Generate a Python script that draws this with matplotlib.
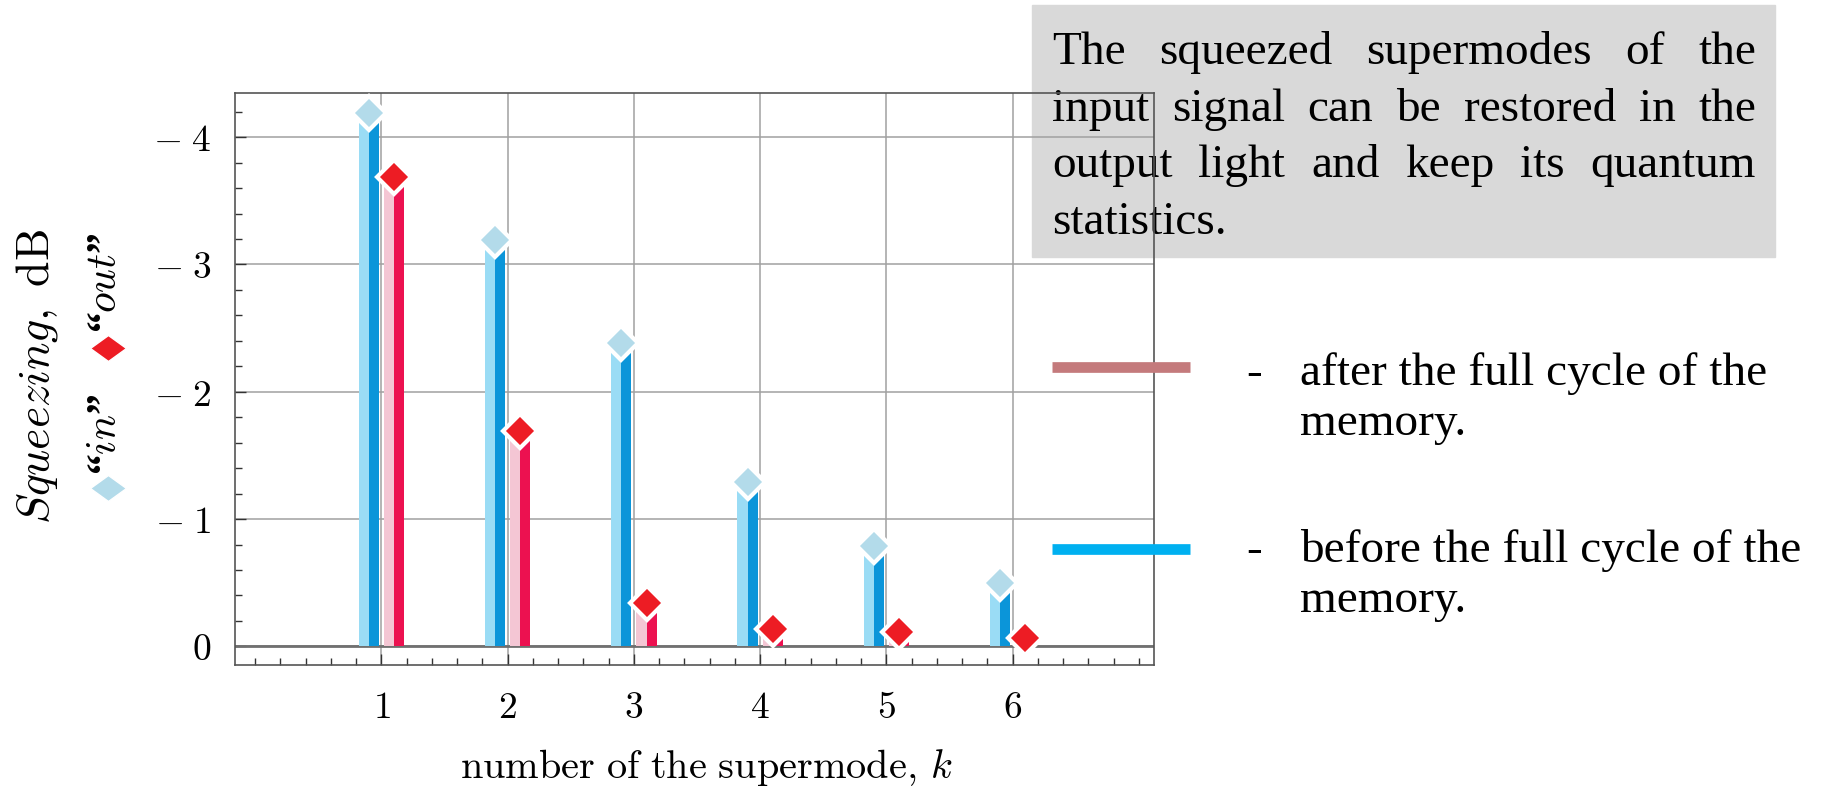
import numpy as np
import matplotlib
matplotlib.use("Agg")
import matplotlib.pyplot as plt
from matplotlib.patches import Rectangle
from matplotlib.lines import Line2D
from matplotlib.markers import MarkerStyle
from matplotlib.transforms import Affine2D
from matplotlib.ticker import MultipleLocator

plt.rcParams['mathtext.fontset'] = 'cm'

# squeezing of each supermode, dB
k = [1, 2, 3, 4, 5, 6]
sq_in = [-4.19, -3.19, -2.38, -1.29, -0.79, -0.50]
sq_out = [-3.69, -1.69, -0.34, -0.14, -0.11, -0.07]
y_ticks = [0, -1, -2, -3, -4]

box_lines = ["The squeezed supermodes of the",
             "input signal can be restored in the",
             "output light and keep its quantum",
             "statistics."]
legend_after = ["after the full cycle of the", "memory."]
legend_before = ["before the full cycle of the", "memory."]

W, H = 1823, 786
fig = plt.figure(figsize=(W / 100, H / 100), dpi=100)


def fx(px):
    return px / W


def fy(py):
    return 1 - py / H


ax = fig.add_axes([fx(235), fy(665), (1154 - 235) / W, (665 - 93) / H])
ax.patch.set_alpha(0)

x = np.array(k)
hw = 0.08  # half of one bar
series = [(sq_in, -0.1, '#9adcf5', '#0b95d9', '#b3dbea'),
          (sq_out, 0.1, '#f4c6d4', '#ec1150', '#ed1c24')]
for vals, off, light, dark, mcol in series:
    ax.bar(x + off - hw / 2, vals, width=hw, color=light, zorder=3)
    ax.bar(x + off + hw / 2, vals, width=hw, color=dark, zorder=3)
    ax.plot(x + off, vals, ls='none', marker='D', ms=17, mfc=mcol,
            mec='white', mew=3, zorder=4, clip_on=False)

ax.axhline(0, color='#707070', lw=2, zorder=2)
ax.set_xlim(-0.16, 7.12)
ax.set_ylim(0.146, -4.347)

ax.set_xticks(k)
ax.set_xticklabels([f'${v}$' for v in k])
ax.set_yticks(y_ticks)
ax.set_yticklabels([r'$-\;%d$' % -v if v < 0 else '$0$' for v in y_ticks])
ax.xaxis.set_minor_locator(MultipleLocator(0.2))
ax.yaxis.set_minor_locator(MultipleLocator(0.2))
ax.tick_params(which='both', direction='in', top=False, right=False,
               color='#333333', labelsize=27)
ax.tick_params(which='major', length=8, width=1)
ax.tick_params(which='minor', length=5, width=1)
ax.tick_params(axis='x', pad=18)
ax.tick_params(axis='y', pad=17)
ax.grid(True, which='major', color='#a0a0a0', lw=1.1)
ax.set_axisbelow(True)
for sp in ax.spines.values():
    sp.set_color('#555555')
    sp.set_linewidth(1.2)

# axis titles
fig.text(fx(706), fy(767), r'$\mathrm{number\ of\ the\ supermode,}\,k$',
         ha='center', va='center', fontsize=29)
fig.text(fx(37), fy(376), r'$Squeezing,\ \mathrm{dB}$', rotation=90,
         ha='center', va='center', fontsize=33)

# marker key inside the y title
flat_d = MarkerStyle('D', transform=Affine2D().scale(1, 0.72))
for yk, col in [(488, '#b3dbea'), (348, '#ed1c24')]:
    fig.add_artist(Line2D([fx(108)], [fy(yk)], marker=flat_d, ms=18, mfc=col,
                          mec='white', mew=1, ls='none', transform=fig.transFigure))
fig.text(fx(106), fy(434), '“$in$”', rotation=90, ha='center', va='center',
         fontsize=30, family='Liberation Serif', weight='bold')
fig.text(fx(106), fy(283), '“$out$”', rotation=90, ha='center', va='center',
         fontsize=30, family='Liberation Serif', weight='bold')

# grey note box behind the axes
fig.add_artist(Rectangle((fx(1032), fy(257)), (1775 - 1032) / W, (257 - 5) / H,
                         transform=fig.transFigure, color='#d9d9d9', zorder=-2))
renderer = fig.canvas.get_renderer()
x0, x1 = 1052, 1756
for i, line in enumerate(box_lines):
    words = line.split()
    yb = fy(64 + 56.7 * i)
    texts = [fig.text(0, yb, w, fontsize=34, family='Liberation Serif',
                      va='baseline', zorder=-1) for w in words]
    widths = [t.get_window_extent(renderer).width for t in texts]
    if i < len(box_lines) - 1 and len(words) > 1:
        gap = (x1 - x0 - sum(widths)) / (len(words) - 1)
    else:
        gap = 12
    pos = x0
    for t, w in zip(texts, widths):
        t.set_x(fx(pos))
        pos += w + gap

# line key on the right
for yl, col, lines, yt in [(367, '#c47a7c', legend_after, 385),
                           (549, '#00b0f0', legend_before, 562)]:
    fig.add_artist(Line2D([fx(1052), fx(1190)], [fy(yl), fy(yl)], color=col, lw=7.7,
                          solid_capstyle='butt', transform=fig.transFigure, zorder=2))
    fig.text(fx(1246), fy(yt), '-', fontsize=34, family='Liberation Serif', va='baseline')
    for j, s in enumerate(lines):
        fig.text(fx(1300), fy(yt + 50 * j), s, fontsize=34,
                 family='Liberation Serif', va='baseline')

fig.savefig('out.png', dpi=100)
